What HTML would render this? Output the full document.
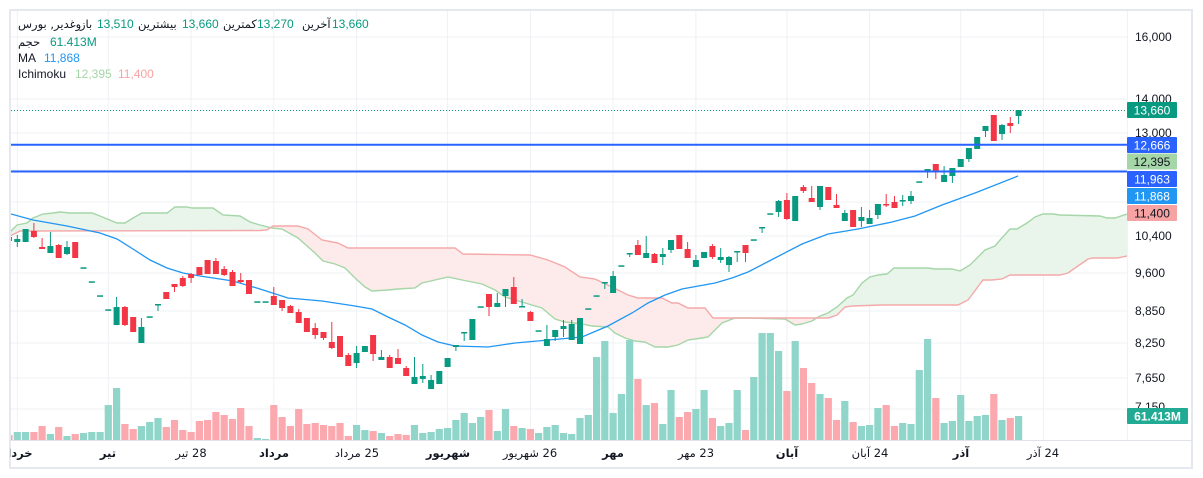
<!DOCTYPE html>
<html><head><meta charset="utf-8">
<style>
html,body{margin:0;padding:0;background:#fff;}
body{width:1203px;height:478px;position:relative;overflow:hidden;font-family:"Liberation Sans","DejaVu Sans",sans-serif;color:#131722;}
svg{position:absolute;left:0;top:0;}
.t{position:absolute;font-size:12px;line-height:16px;white-space:nowrap;}
.fa{direction:rtl;unicode-bidi:isolate;font-family:"DejaVu Sans","Liberation Sans",sans-serif;font-size:11.5px;}
.g{color:#089981;}
.xa{position:absolute;left:10px;top:444px;width:1117px;height:20px;overflow:hidden;}
.xl{position:absolute;top:0;width:80px;text-align:center;direction:rtl;font-size:11.5px;line-height:18px;font-family:"DejaVu Sans","Liberation Sans",sans-serif;white-space:nowrap;}
.b{font-weight:bold;}
</style></head><body>
<svg width="1203" height="478" viewBox="0 0 1203 478" xmlns="http://www.w3.org/2000/svg">
<defs>
<clipPath id="plot"><rect x="11" y="11" width="1116" height="429"/></clipPath>
<clipPath id="above"><polygon points="10,236 20,231 260,230.5 267,230 273,226 298,226 308,229 322,240 338,243 348,248 455,248 463,254 530,255 548,260 565,267 580,277 595,279 612,287 628,295 638,298 662,298 672,303 678,303 688,308 705,308 713,318 828,318 837,315 845,307 852,306 882,305 958,305 968,300 983,280 992,280 1002,279 1010,275 1060,275 1068,273 1078,266 1088,259 1093,258 1117,258 1127,256 1127,0 10,0"/></clipPath>
<clipPath id="below"><polygon points="10,236 20,231 260,230.5 267,230 273,226 298,226 308,229 322,240 338,243 348,248 455,248 463,254 530,255 548,260 565,267 580,277 595,279 612,287 628,295 638,298 662,298 672,303 678,303 688,308 705,308 713,318 828,318 837,315 845,307 852,306 882,305 958,305 968,300 983,280 992,280 1002,279 1010,275 1060,275 1068,273 1078,266 1088,259 1093,258 1117,258 1127,256 1127,440 10,440"/></clipPath>
</defs>
<rect x="10" y="10" width="1182" height="458" fill="none" stroke="#e6e8ef" stroke-width="2"/>
<g stroke="#eff1f4" stroke-width="1">
<line x1="11" y1="37" x2="1127" y2="37"/><line x1="11" y1="99" x2="1127" y2="99"/><line x1="11" y1="133" x2="1127" y2="133"/><line x1="11" y1="170" x2="1127" y2="170"/><line x1="11" y1="202" x2="1127" y2="202"/><line x1="11" y1="236" x2="1127" y2="236"/><line x1="11" y1="273" x2="1127" y2="273"/><line x1="11" y1="311" x2="1127" y2="311"/><line x1="11" y1="343" x2="1127" y2="343"/><line x1="11" y1="378" x2="1127" y2="378"/><line x1="11" y1="409" x2="1127" y2="409"/>
<line x1="17.3" y1="11" x2="17.3" y2="440"/><line x1="108.3" y1="11" x2="108.3" y2="440"/><line x1="191.1" y1="11" x2="191.1" y2="440"/><line x1="273.8" y1="11" x2="273.8" y2="440"/><line x1="356.6" y1="11" x2="356.6" y2="440"/><line x1="447.6" y1="11" x2="447.6" y2="440"/><line x1="530.4" y1="11" x2="530.4" y2="440"/><line x1="613.1" y1="11" x2="613.1" y2="440"/><line x1="695.9" y1="11" x2="695.9" y2="440"/><line x1="786.9" y1="11" x2="786.9" y2="440"/><line x1="869.6" y1="11" x2="869.6" y2="440"/><line x1="960.7" y1="11" x2="960.7" y2="440"/><line x1="1043.4" y1="11" x2="1043.4" y2="440"/>
</g>
<line x1="10" y1="440.5" x2="1192" y2="440.5" stroke="#e0e3eb" stroke-width="1"/>
<line x1="1127.5" y1="11" x2="1127.5" y2="440" stroke="#f0f2f5" stroke-width="1"/>
<g clip-path="url(#plot)">
<g clip-path="url(#above)"><polygon fill="#e9f4ea" points="10,232 17,225 27,223 33,218 43,214 53,213 60,212 70,213 92,213 100,216 117,223 125,223 133,218 142,213 167,213 175,207 187,207 192,208 213,208 223,215 240,216 250,222 260,225 272,228 282,229 298,238 315,253 323,261 335,264 345,268 355,278 365,287 372,291 388,290 398,289 415,288 422,283 435,280 448,277 462,280 482,284 495,290 505,297 512,299 525,303 542,308 555,319 565,322 582,324 592,326 608,327 615,333 625,338 635,341 645,342 655,347 668,347 678,345 688,340 702,338 708,337 722,323 735,318 748,318 785,319 795,325 802,324 812,321 820,316 828,313 837,307 847,298 853,295 862,283 870,277 878,275 887,274 894,268 928,268 935,269 952,269 960,271 970,265 985,250 995,246 1000,240 1010,229 1017,229 1027,223 1035,217 1043,214 1053,214 1060,215 1100,216 1107,218 1115,218 1127,214 1127,256 1117,258 1093,258 1088,259 1078,266 1068,273 1060,275 1010,275 1002,279 992,280 983,280 968,300 958,305 882,305 852,306 845,307 837,315 828,318 713,318 705,308 688,308 678,303 672,303 662,298 638,298 628,295 612,287 595,279 580,277 565,267 548,260 530,255 463,254 455,248 348,248 338,243 322,240 308,229 298,226 273,226 267,230 260,230.5 20,231 10,236"/></g>
<g clip-path="url(#below)"><polygon fill="#fdeaea" points="10,232 17,225 27,223 33,218 43,214 53,213 60,212 70,213 92,213 100,216 117,223 125,223 133,218 142,213 167,213 175,207 187,207 192,208 213,208 223,215 240,216 250,222 260,225 272,228 282,229 298,238 315,253 323,261 335,264 345,268 355,278 365,287 372,291 388,290 398,289 415,288 422,283 435,280 448,277 462,280 482,284 495,290 505,297 512,299 525,303 542,308 555,319 565,322 582,324 592,326 608,327 615,333 625,338 635,341 645,342 655,347 668,347 678,345 688,340 702,338 708,337 722,323 735,318 748,318 785,319 795,325 802,324 812,321 820,316 828,313 837,307 847,298 853,295 862,283 870,277 878,275 887,274 894,268 928,268 935,269 952,269 960,271 970,265 985,250 995,246 1000,240 1010,229 1017,229 1027,223 1035,217 1043,214 1053,214 1060,215 1100,216 1107,218 1115,218 1127,214 1127,256 1117,258 1093,258 1088,259 1078,266 1068,273 1060,275 1010,275 1002,279 992,280 983,280 968,300 958,305 882,305 852,306 845,307 837,315 828,318 713,318 705,308 688,308 678,303 672,303 662,298 638,298 628,295 612,287 595,279 580,277 565,267 548,260 530,255 463,254 455,248 348,248 338,243 322,240 308,229 298,226 273,226 267,230 260,230.5 20,231 10,236"/></g>
<polyline fill="none" stroke="#a5d6a7" stroke-width="1.4" points="10,232 17,225 27,223 33,218 43,214 53,213 60,212 70,213 92,213 100,216 117,223 125,223 133,218 142,213 167,213 175,207 187,207 192,208 213,208 223,215 240,216 250,222 260,225 272,228 282,229 298,238 315,253 323,261 335,264 345,268 355,278 365,287 372,291 388,290 398,289 415,288 422,283 435,280 448,277 462,280 482,284 495,290 505,297 512,299 525,303 542,308 555,319 565,322 582,324 592,326 608,327 615,333 625,338 635,341 645,342 655,347 668,347 678,345 688,340 702,338 708,337 722,323 735,318 748,318 785,319 795,325 802,324 812,321 820,316 828,313 837,307 847,298 853,295 862,283 870,277 878,275 887,274 894,268 928,268 935,269 952,269 960,271 970,265 985,250 995,246 1000,240 1010,229 1017,229 1027,223 1035,217 1043,214 1053,214 1060,215 1100,216 1107,218 1115,218 1127,214"/>
<polyline fill="none" stroke="#f4a9a9" stroke-width="1.4" points="10,236 20,231 260,230.5 267,230 273,226 298,226 308,229 322,240 338,243 348,248 455,248 463,254 530,255 548,260 565,267 580,277 595,279 612,287 628,295 638,298 662,298 672,303 678,303 688,308 705,308 713,318 828,318 837,315 845,307 852,306 882,305 958,305 968,300 983,280 992,280 1002,279 1010,275 1060,275 1068,273 1078,266 1088,259 1093,258 1117,258 1127,256"/>
<g fill="#90d5c9">
<rect x="13.7" y="432" width="7.2" height="8"/><rect x="22.0" y="432" width="7.2" height="8"/><rect x="46.8" y="434" width="7.2" height="6"/><rect x="63.4" y="436" width="7.2" height="4"/><rect x="79.9" y="433" width="7.2" height="7"/><rect x="88.2" y="432" width="7.2" height="8"/><rect x="96.5" y="432" width="7.2" height="8"/><rect x="104.7" y="405" width="7.2" height="35"/><rect x="113.0" y="388" width="7.2" height="52"/><rect x="137.8" y="426" width="7.2" height="14"/><rect x="146.1" y="422" width="7.2" height="18"/><rect x="154.4" y="418" width="7.2" height="22"/><rect x="253.7" y="438" width="7.2" height="2"/><rect x="262.0" y="439" width="7.2" height="1"/><rect x="353.0" y="425" width="7.2" height="15"/><rect x="361.3" y="430" width="7.2" height="10"/><rect x="377.8" y="433" width="7.2" height="7"/><rect x="410.9" y="425" width="7.2" height="15"/><rect x="419.2" y="433" width="7.2" height="7"/><rect x="427.5" y="432" width="7.2" height="8"/><rect x="435.7" y="429" width="7.2" height="11"/><rect x="444.0" y="428" width="7.2" height="12"/><rect x="452.3" y="420" width="7.2" height="20"/><rect x="460.6" y="413" width="7.2" height="27"/><rect x="468.8" y="423" width="7.2" height="17"/><rect x="477.1" y="417" width="7.2" height="23"/><rect x="493.7" y="431" width="7.2" height="9"/><rect x="501.9" y="409" width="7.2" height="31"/><rect x="518.5" y="428" width="7.2" height="12"/><rect x="535.0" y="433" width="7.2" height="7"/><rect x="543.3" y="427" width="7.2" height="13"/><rect x="551.6" y="425" width="7.2" height="15"/><rect x="559.9" y="433" width="7.2" height="7"/><rect x="568.1" y="434" width="7.2" height="6"/><rect x="576.4" y="418" width="7.2" height="22"/><rect x="584.7" y="415" width="7.2" height="25"/><rect x="593.0" y="357" width="7.2" height="83"/><rect x="601.2" y="341" width="7.2" height="99"/><rect x="609.5" y="413" width="7.2" height="27"/><rect x="617.8" y="394" width="7.2" height="46"/><rect x="626.1" y="340" width="7.2" height="100"/><rect x="642.6" y="405" width="7.2" height="35"/><rect x="659.2" y="424" width="7.2" height="16"/><rect x="667.4" y="390" width="7.2" height="50"/><rect x="692.3" y="409" width="7.2" height="31"/><rect x="700.5" y="390" width="7.2" height="50"/><rect x="717.1" y="426" width="7.2" height="14"/><rect x="725.4" y="423" width="7.2" height="17"/><rect x="733.6" y="390" width="7.2" height="50"/><rect x="750.2" y="377" width="7.2" height="63"/><rect x="758.5" y="333" width="7.2" height="107"/><rect x="766.7" y="333" width="7.2" height="107"/><rect x="775.0" y="351" width="7.2" height="89"/><rect x="791.6" y="341" width="7.2" height="99"/><rect x="816.4" y="394" width="7.2" height="46"/><rect x="841.2" y="401" width="7.2" height="39"/><rect x="857.8" y="426" width="7.2" height="14"/><rect x="866.0" y="425" width="7.2" height="15"/><rect x="874.3" y="408" width="7.2" height="32"/><rect x="899.1" y="423" width="7.2" height="17"/><rect x="907.4" y="424" width="7.2" height="16"/><rect x="915.7" y="370" width="7.2" height="70"/><rect x="924.0" y="339" width="7.2" height="101"/><rect x="940.5" y="423" width="7.2" height="17"/><rect x="948.8" y="421" width="7.2" height="19"/><rect x="957.1" y="395" width="7.2" height="45"/><rect x="965.3" y="421" width="7.2" height="19"/><rect x="973.6" y="416" width="7.2" height="24"/><rect x="981.9" y="415" width="7.2" height="25"/><rect x="998.4" y="420" width="7.2" height="20"/><rect x="1015.0" y="416" width="7.2" height="24"/>
</g>
<g fill="#fba8af">
<rect x="5.4" y="435" width="7.2" height="5"/><rect x="30.3" y="432" width="7.2" height="8"/><rect x="38.5" y="426" width="7.2" height="14"/><rect x="55.1" y="427" width="7.2" height="13"/><rect x="71.6" y="434" width="7.2" height="6"/><rect x="121.3" y="424" width="7.2" height="16"/><rect x="129.6" y="429" width="7.2" height="11"/><rect x="162.7" y="427" width="7.2" height="13"/><rect x="170.9" y="420" width="7.2" height="20"/><rect x="179.2" y="430" width="7.2" height="10"/><rect x="187.5" y="432" width="7.2" height="8"/><rect x="195.8" y="421" width="7.2" height="19"/><rect x="204.0" y="420" width="7.2" height="20"/><rect x="212.3" y="412" width="7.2" height="28"/><rect x="220.6" y="415" width="7.2" height="25"/><rect x="228.9" y="419" width="7.2" height="21"/><rect x="237.1" y="408" width="7.2" height="32"/><rect x="245.4" y="426" width="7.2" height="14"/><rect x="270.2" y="405" width="7.2" height="35"/><rect x="278.5" y="417" width="7.2" height="23"/><rect x="286.8" y="426" width="7.2" height="14"/><rect x="295.1" y="409" width="7.2" height="31"/><rect x="303.3" y="424" width="7.2" height="16"/><rect x="311.6" y="423" width="7.2" height="17"/><rect x="319.9" y="425" width="7.2" height="15"/><rect x="328.2" y="426" width="7.2" height="14"/><rect x="336.4" y="423" width="7.2" height="17"/><rect x="344.7" y="436" width="7.2" height="4"/><rect x="369.5" y="431" width="7.2" height="9"/><rect x="386.1" y="436" width="7.2" height="4"/><rect x="394.4" y="434" width="7.2" height="6"/><rect x="402.6" y="435" width="7.2" height="5"/><rect x="485.4" y="410" width="7.2" height="30"/><rect x="510.2" y="426" width="7.2" height="14"/><rect x="526.8" y="429" width="7.2" height="11"/><rect x="634.3" y="379" width="7.2" height="61"/><rect x="650.9" y="403" width="7.2" height="37"/><rect x="675.7" y="417" width="7.2" height="23"/><rect x="684.0" y="412" width="7.2" height="28"/><rect x="708.8" y="418" width="7.2" height="22"/><rect x="741.9" y="430" width="7.2" height="10"/><rect x="783.3" y="391" width="7.2" height="49"/><rect x="799.8" y="368" width="7.2" height="72"/><rect x="808.1" y="383" width="7.2" height="57"/><rect x="824.7" y="398" width="7.2" height="42"/><rect x="832.9" y="420" width="7.2" height="20"/><rect x="849.5" y="422" width="7.2" height="18"/><rect x="882.6" y="405" width="7.2" height="35"/><rect x="890.9" y="426" width="7.2" height="14"/><rect x="932.2" y="398" width="7.2" height="42"/><rect x="990.2" y="394" width="7.2" height="46"/><rect x="1006.7" y="418" width="7.2" height="22"/>
</g>
<polyline fill="none" stroke="#2196f3" stroke-width="1.3" points="11,214 33,220 67,226 100,233 117,239 133,249 150,260 167,268 183,273 200,276 233,281 260,289 288,298 322,301 355,306 372,309 388,317 405,325 422,335 438,342 455,346 488,347 515,343 582,337 608,326 632,313 648,303 665,295 682,289 715,283 732,278 748,272 775,258 802,244 828,234 858,229 892,222 915,216 942,205 975,193 1018,176"/>
<g fill="#089981">
<rect x="14.3" y="239" width="6" height="3"/><rect x="16.8" y="235" width="1" height="12"/>
<rect x="22.6" y="229" width="6" height="13"/>
<rect x="47.4" y="246" width="6" height="7"/><rect x="49.9" y="232" width="1" height="21"/>
<rect x="64.0" y="247" width="6" height="7"/><rect x="66.5" y="241" width="1" height="14"/>
<rect x="80.5" y="267.3" width="6" height="1.5"/><rect x="88.8" y="281.3" width="6" height="1.5"/><rect x="97.1" y="295.3" width="6" height="1.5"/><rect x="105.3" y="309.3" width="6" height="1.5"/>
<rect x="113.6" y="307" width="6" height="18"/><rect x="116.1" y="297" width="1" height="28"/>
<rect x="138.4" y="327" width="6" height="16"/><rect x="140.9" y="318" width="1" height="25"/>
<rect x="146.7" y="316.3" width="6" height="1.5"/>
<rect x="155.0" y="304" width="6" height="1.5"/><rect x="157.5" y="304" width="1" height="7"/>
<rect x="254.3" y="301.3" width="6" height="1.5"/><rect x="262.6" y="301.3" width="6" height="1.5"/>
<rect x="353.6" y="353" width="6" height="10"/><rect x="356.1" y="346" width="1" height="22"/>
<rect x="361.9" y="346" width="6" height="6"/>
<rect x="378.4" y="357" width="6" height="3"/><rect x="380.9" y="350" width="1" height="10"/>
<rect x="411.5" y="377" width="6" height="7"/><rect x="414.0" y="357" width="1" height="27"/>
<rect x="419.8" y="376" width="6" height="3"/><rect x="422.3" y="364" width="1" height="19"/>
<rect x="428.1" y="380" width="6" height="9"/><rect x="430.6" y="375" width="1" height="14"/>
<rect x="436.3" y="371" width="6" height="13"/>
<rect x="444.6" y="358" width="6" height="9"/>
<rect x="452.9" y="345" width="6" height="2"/><rect x="455.4" y="345" width="1" height="6"/>
<rect x="461.2" y="332" width="6" height="1.5"/><rect x="463.7" y="332" width="1" height="9"/>
<rect x="469.4" y="319" width="6" height="21"/>
<rect x="477.7" y="306.3" width="6" height="1.5"/>
<rect x="494.3" y="303" width="6" height="4"/><rect x="496.8" y="293" width="1" height="14"/>
<rect x="502.5" y="289" width="6" height="7"/><rect x="505.0" y="289" width="1" height="18"/>
<rect x="519.1" y="306" width="6" height="1.5"/><rect x="521.6" y="299" width="1" height="8"/>
<rect x="535.6" y="330.3" width="6" height="1.5"/>
<rect x="543.9" y="339" width="6" height="7"/><rect x="546.4" y="325" width="1" height="21"/>
<rect x="552.2" y="330" width="6" height="7"/><rect x="554.7" y="330" width="1" height="11"/>
<rect x="560.5" y="326" width="6" height="3"/><rect x="563.0" y="320" width="1" height="17"/>
<rect x="568.7" y="324" width="6" height="16"/><rect x="571.2" y="320" width="1" height="20"/>
<rect x="577.0" y="318" width="6" height="26"/>
<rect x="585.3" y="308.3" width="6" height="1.5"/><rect x="593.6" y="295.3" width="6" height="1.5"/>
<rect x="601.8" y="282" width="6" height="1.5"/><rect x="604.3" y="282" width="1" height="7"/>
<rect x="610.1" y="276" width="6" height="17"/><rect x="612.6" y="271" width="1" height="22"/>
<rect x="618.4" y="265.3" width="6" height="1.5"/>
<rect x="626.7" y="253" width="6" height="1.5"/><rect x="629.2" y="253" width="1" height="4"/>
<rect x="643.2" y="253" width="6" height="5"/><rect x="645.7" y="236" width="1" height="22"/>
<rect x="659.8" y="254" width="6" height="3"/><rect x="662.3" y="248" width="1" height="17"/>
<rect x="668.0" y="240" width="6" height="10"/><rect x="670.5" y="240" width="1" height="13"/>
<rect x="692.9" y="260" width="6" height="7"/><rect x="695.4" y="255" width="1" height="12"/>
<rect x="701.1" y="252" width="6" height="6"/>
<rect x="717.7" y="257" width="6" height="3"/><rect x="720.2" y="248" width="1" height="15"/>
<rect x="726.0" y="257" width="6" height="8"/><rect x="728.5" y="256" width="1" height="16"/>
<rect x="734.2" y="251" width="6" height="1.5"/><rect x="736.7" y="251" width="1" height="11"/>
<rect x="750.8" y="239.3" width="6" height="1.5"/>
<rect x="759.1" y="227" width="6" height="1.5"/><rect x="761.6" y="227" width="1" height="6"/>
<rect x="767.3" y="213.3" width="6" height="1.5"/>
<rect x="775.6" y="201" width="6" height="11"/><rect x="778.1" y="200" width="1" height="17"/>
<rect x="792.2" y="196" width="6" height="25"/>
<rect x="817.0" y="186" width="6" height="21"/><rect x="819.5" y="186" width="1" height="24"/>
<rect x="841.8" y="213" width="6" height="8"/><rect x="844.3" y="210" width="1" height="11"/>
<rect x="858.4" y="217" width="6" height="4"/><rect x="860.9" y="207" width="1" height="20"/>
<rect x="866.6" y="218" width="6" height="6"/><rect x="869.1" y="210" width="1" height="14"/>
<rect x="874.9" y="204" width="6" height="11"/><rect x="877.4" y="204" width="1" height="15"/>
<rect x="899.7" y="200" width="6" height="1.5"/><rect x="902.2" y="195" width="1" height="11"/>
<rect x="908.0" y="196" width="6" height="5"/><rect x="910.5" y="191" width="1" height="13"/>
<rect x="916.3" y="181.3" width="6" height="1.5"/>
<rect x="924.6" y="169" width="6" height="1.5"/><rect x="927.1" y="169" width="1" height="9"/>
<rect x="941.1" y="175" width="6" height="7"/><rect x="943.6" y="166" width="1" height="16"/>
<rect x="949.4" y="168" width="6" height="8"/><rect x="951.9" y="168" width="1" height="15"/>
<rect x="957.7" y="159" width="6" height="8"/>
<rect x="965.9" y="148" width="6" height="11"/><rect x="968.4" y="148" width="1" height="14"/>
<rect x="974.2" y="137" width="6" height="12"/>
<rect x="982.5" y="126" width="6" height="5"/><rect x="985.0" y="126" width="1" height="11"/>
<rect x="999.0" y="125" width="6" height="9"/><rect x="1001.5" y="124" width="1" height="16"/>
<rect x="1015.6" y="110" width="6" height="6"/><rect x="1018.1" y="110" width="1" height="14"/>
</g>
<g fill="#f23645">
<rect x="6.0" y="237" width="6" height="4"/>
<rect x="30.9" y="231" width="6" height="6"/><rect x="33.4" y="223" width="1" height="15"/>
<rect x="39.1" y="247" width="6" height="2"/><rect x="41.6" y="238" width="1" height="11"/>
<rect x="55.7" y="245" width="6" height="13"/><rect x="58.2" y="244" width="1" height="14"/>
<rect x="72.2" y="242" width="6" height="16"/>
<rect x="121.9" y="307" width="6" height="18"/><rect x="124.4" y="306" width="1" height="20"/>
<rect x="130.2" y="317" width="6" height="15"/>
<rect x="163.3" y="292" width="6" height="7"/>
<rect x="171.5" y="284" width="6" height="3"/><rect x="174.0" y="284" width="1" height="8"/>
<rect x="179.8" y="278" width="6" height="8"/><rect x="182.3" y="276" width="1" height="11"/>
<rect x="188.1" y="274" width="6" height="4"/><rect x="190.6" y="273" width="1" height="10"/>
<rect x="196.4" y="267" width="6" height="8"/>
<rect x="204.6" y="260" width="6" height="14"/>
<rect x="212.9" y="261" width="6" height="13"/><rect x="215.4" y="258" width="1" height="16"/>
<rect x="221.2" y="269" width="6" height="6"/><rect x="223.7" y="266" width="1" height="10"/>
<rect x="229.5" y="272" width="6" height="14"/><rect x="232.0" y="270" width="1" height="16"/>
<rect x="237.7" y="280" width="6" height="2"/><rect x="240.2" y="273" width="1" height="10"/>
<rect x="246.0" y="280" width="6" height="14"/>
<rect x="270.8" y="296" width="6" height="9"/><rect x="273.3" y="287" width="1" height="18"/>
<rect x="279.1" y="300" width="6" height="8"/><rect x="281.6" y="300" width="1" height="11"/>
<rect x="287.4" y="306" width="6" height="7"/><rect x="289.9" y="305" width="1" height="8"/>
<rect x="295.7" y="312" width="6" height="11"/><rect x="298.2" y="309" width="1" height="14"/>
<rect x="303.9" y="318" width="6" height="14"/>
<rect x="312.2" y="328" width="6" height="7"/><rect x="314.7" y="323" width="1" height="16"/>
<rect x="320.5" y="332" width="6" height="6"/><rect x="323.0" y="332" width="1" height="8"/>
<rect x="328.8" y="342" width="6" height="6"/><rect x="331.3" y="322" width="1" height="27"/>
<rect x="337.0" y="336" width="6" height="21"/>
<rect x="345.3" y="355" width="6" height="11"/><rect x="347.8" y="353" width="1" height="13"/>
<rect x="370.1" y="335" width="6" height="19"/><rect x="372.6" y="335" width="1" height="26"/>
<rect x="386.7" y="357" width="6" height="11"/><rect x="389.2" y="355" width="1" height="13"/>
<rect x="395.0" y="358" width="6" height="6"/><rect x="397.5" y="349" width="1" height="15"/>
<rect x="403.2" y="368" width="6" height="8"/><rect x="405.7" y="366" width="1" height="10"/>
<rect x="486.0" y="294" width="6" height="13"/><rect x="488.5" y="294" width="1" height="22"/>
<rect x="510.8" y="287" width="6" height="17"/><rect x="513.3" y="277" width="1" height="27"/>
<rect x="527.4" y="312" width="6" height="9"/><rect x="529.9" y="311" width="1" height="10"/>
<rect x="634.9" y="245" width="6" height="10"/><rect x="637.4" y="240" width="1" height="15"/>
<rect x="651.5" y="254" width="6" height="9"/><rect x="654.0" y="253" width="1" height="10"/>
<rect x="676.3" y="235" width="6" height="14"/>
<rect x="684.6" y="249" width="6" height="9"/><rect x="687.1" y="242" width="1" height="16"/>
<rect x="709.4" y="246" width="6" height="11"/><rect x="711.9" y="244" width="1" height="15"/>
<rect x="742.5" y="245" width="6" height="8"/><rect x="745.0" y="245" width="1" height="17"/>
<rect x="783.9" y="200" width="6" height="19"/><rect x="786.4" y="193" width="1" height="27"/>
<rect x="800.4" y="187" width="6" height="4"/><rect x="802.9" y="185" width="1" height="8"/>
<rect x="808.7" y="198" width="6" height="4"/><rect x="811.2" y="186" width="1" height="16"/>
<rect x="825.3" y="187" width="6" height="13"/>
<rect x="833.5" y="205" width="6" height="3"/><rect x="836.0" y="194" width="1" height="14"/>
<rect x="850.1" y="210" width="6" height="17"/>
<rect x="883.2" y="204" width="6" height="1.5"/><rect x="885.7" y="194" width="1" height="13"/>
<rect x="891.5" y="202" width="6" height="6"/><rect x="894.0" y="196" width="1" height="12"/>
<rect x="932.8" y="164" width="6" height="7"/><rect x="935.3" y="164" width="1" height="15"/>
<rect x="990.8" y="115" width="6" height="26"/>
<rect x="1007.3" y="123" width="6" height="3"/><rect x="1009.8" y="117" width="1" height="16"/>
</g>
<line x1="11" y1="110.5" x2="1127" y2="110.5" stroke="#089981" stroke-width="1" stroke-dasharray="1,2"/>
<line x1="11" y1="144.7" x2="1127" y2="144.7" stroke="#2962ff" stroke-width="2"/>
<line x1="11" y1="171.5" x2="1127" y2="171.5" stroke="#2962ff" stroke-width="2"/>
</g>
<g font-family="Liberation Sans, sans-serif" font-size="12" fill="#131722">
<text x="1135" y="41">16,000</text>
<text x="1135" y="103">14,000</text>
<text x="1135" y="137">13,000</text>
<text x="1135" y="240">10,400</text>
<text x="1135" y="277">9,600</text>
<text x="1135" y="315">8,850</text>
<text x="1135" y="347">8,250</text>
<text x="1135" y="382">7,650</text>
<text x="1135" y="411">7,150</text>
</g>
<rect x="1127" y="102" width="50" height="16" rx="1" fill="#089981"/>
<rect x="1127" y="137" width="50" height="16" rx="1" fill="#2962ff"/>
<rect x="1127" y="153.5" width="50" height="16" rx="1" fill="#a5d6a7"/>
<rect x="1127" y="171" width="50" height="16" rx="1" fill="#2962ff"/>
<rect x="1127" y="188" width="50" height="16" rx="1" fill="#2196f3"/>
<rect x="1127" y="205" width="50" height="16" rx="1" fill="#f7a3a3"/>
<rect x="1127" y="408" width="61" height="16" rx="1" fill="#22ab94"/>
<g font-family="Liberation Sans, sans-serif" font-size="12" text-anchor="middle">
<text x="1152" y="114.5" fill="#fff">13,660</text>
<text x="1152" y="149.5" fill="#fff">12,666</text>
<text x="1152" y="166" fill="#131722">12,395</text>
<text x="1152" y="183.5" fill="#fff">11,963</text>
<text x="1152" y="200.5" fill="#fff">11,868</text>
<text x="1152" y="217.5" fill="#131722">11,400</text>
<text x="1157.5" y="420.5" fill="#fff" font-weight="bold">61.413M</text>
</g>
</svg>

<span class="t fa" style="left:18px;top:16px;">وغدیر, بورس</span>
<span class="t fa" style="left:80px;top:16px;">باز</span>
<span class="t g" style="left:97px;top:16px;">13,510</span>
<span class="t fa" style="left:138px;top:16px;">بیشترین</span>
<span class="t g" style="left:182px;top:16px;">13,660</span>
<span class="t fa" style="left:223px;top:16px;">کمترین</span>
<span class="t g" style="left:257px;top:16px;">13,270</span>
<span class="t fa" style="left:302px;top:16px;">آخرین</span>
<span class="t g" style="left:332px;top:16px;">13,660</span>

<span class="t fa" style="left:18px;top:34px;">حجم</span>
<span class="t g" style="left:50px;top:34px;">61.413M</span>

<span class="t" style="left:18px;top:50px;">MA</span>
<span class="t" style="left:44px;top:50px;color:#2196f3;">11,868</span>

<span class="t" style="left:18px;top:66px;">Ichimoku</span>
<span class="t" style="left:75px;top:66px;color:#a5d6a7;">12,395</span>
<span class="t" style="left:118px;top:66px;color:#f7a3a3;">11,400</span>

<div class="xa">
<div class="xl b" style="left:-33px;">خرداد</div>
<div class="xl b" style="left:58px;">تیر</div>
<div class="xl" style="left:141px;">28 تیر</div>
<div class="xl b" style="left:224px;">مرداد</div>
<div class="xl" style="left:307px;">25 مرداد</div>
<div class="xl b" style="left:398px;">شهریور</div>
<div class="xl" style="left:480px;">26 شهریور</div>
<div class="xl b" style="left:563px;">مهر</div>
<div class="xl" style="left:646px;">23 مهر</div>
<div class="xl b" style="left:737px;">آبان</div>
<div class="xl" style="left:820px;">24 آبان</div>
<div class="xl b" style="left:911px;">آذر</div>
<div class="xl" style="left:993px;">24 آذر</div>
</div>
</body></html>
